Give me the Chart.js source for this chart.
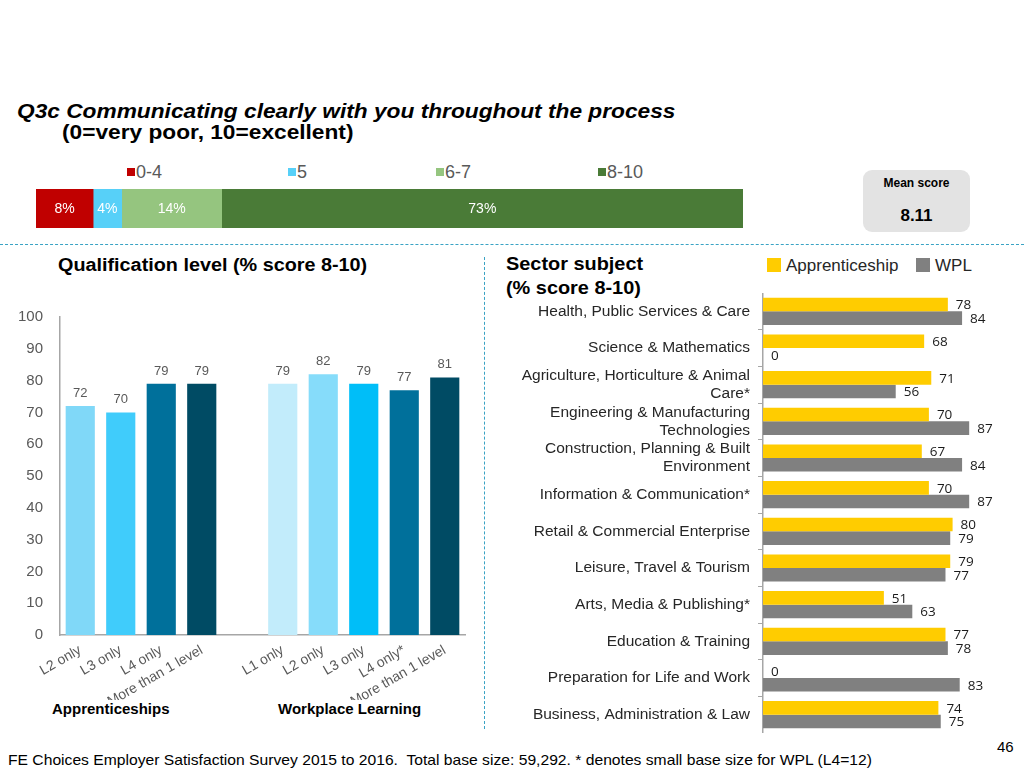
<!DOCTYPE html>
<html>
<head>
<meta charset="utf-8">
<script src="https://cdn.jsdelivr.net/npm/chart.js@4.4.0/dist/chart.umd.min.js"></script>
<style>
  body { margin: 0; background: #fff; font-family: "Liberation Sans", Arial, sans-serif; color: #000; }
  #page { position: relative; width: 1024px; height: 768px; overflow: hidden; }
  .abs { position: absolute; white-space: nowrap; transform-origin: left center; }
  .box { position: absolute; }
  .swatch { position: absolute; }
</style>
</head>
<body>
<div id="page">
  <div class="abs" style="left:17px; top:99px; font-size:20px; line-height:24px; font-weight:bold; font-style:italic; transform:scaleX(1.135);">Q3c Communicating clearly with you throughout the process</div>
  <div class="abs" style="left:62px; top:120px; font-size:20px; line-height:24px; font-weight:bold; transform:scaleX(1.135);">(0=very poor, 10=excellent)</div>

  <div id="topLegend"></div>

  <div class="box" style="left:36px; top:189px; width:707px; height:39px;"><canvas id="scoreChart"></canvas></div>

  <div class="box" style="left:863px; top:170px; width:107px; height:62px; background:#e3e3e3; border-radius:9px;"></div>
  <div class="abs" style="left:863px; width:107px; top:176px; text-align:center; font-size:12px; line-height:14px; font-weight:bold;">Mean score</div>
  <div class="abs" style="left:863px; width:107px; top:206px; text-align:center; font-size:17px; line-height:20px; font-weight:bold;">8.11</div>

  <div class="box" style="left:0; top:244px; width:1024px; border-top:1.5px dashed #3aa3c4;"></div>
  <div class="box" style="left:484px; top:257px; height:472px; border-left:1.5px dashed #3aa3c4;"></div>

  <div class="abs" style="left:58px; top:255px; font-size:18px; line-height:20px; font-weight:bold; transform:scaleX(1.1);">Qualification level (% score 8-10)</div>
  <div class="box" style="left:0; top:300px; width:480px; height:400px;"><canvas id="levelChart"></canvas></div>
  <div class="abs" style="left:52px; top:700px; font-size:15px; line-height:17px; font-weight:bold;">Apprenticeships</div>
  <div class="abs" style="left:278px; top:700px; font-size:15px; line-height:17px; font-weight:bold;">Workplace Learning</div>

  <div class="abs" style="left:506px; top:253px; font-size:18px; line-height:22px; font-weight:bold; transform:scaleX(1.105);">Sector subject</div>
  <div class="abs" style="left:506px; top:277px; font-size:18px; line-height:22px; font-weight:bold; transform:scaleX(1.105);">(% score 8-10)</div>
  <div id="sectorLegend"></div>
  <div class="box" style="left:500px; top:293px; width:520px; height:440px;"><canvas id="sectorChart"></canvas></div>

  <div class="abs" style="left:997px; top:738px; font-size:15px; line-height:17px;">46</div>
  <div class="abs" style="left:8px; top:752px; font-size:14.5px; line-height:16px; transform:scaleX(1.08);">FE Choices Employer Satisfaction Survey 2015 to 2016.&nbsp; Total base size: 59,292. * denotes small base size for WPL (L4=12)</div>
</div>

<script>
// Overall score split (top strip)
const scoreBands = ["0-4", "5", "6-7", "8-10"];
const scoreShares = [8, 4, 14, 73];
const scoreColors = ["#c00000", "#57d0f8", "#95c57f", "#4a7b37"];
const scoreLegendX = [127, 288, 436, 598];

// Qualification level (% score 8-10)
const apprLevels = ["L2 only", "L3 only", "L4 only", "More than 1 level"];
const apprScores = [72, 70, 79, 79];
const apprColors = ["#80d8f8", "#40ccfb", "#00709b", "#004b64"];
const wplLevels = ["L1 only", "L2 only", "L3 only", "L4 only*", "More than 1 level"];
const wplScores = [79, 82, 79, 77, 81];
const wplColors = ["#c2ecfb", "#86dcfa", "#00bef8", "#00709b", "#004b64"];

// Sector subject (% score 8-10)
const sectors = [
  "Health, Public Services & Care",
  "Science & Mathematics",
  ["Agriculture, Horticulture & Animal", "Care*"],
  ["Engineering & Manufacturing", "Technologies"],
  ["Construction, Planning & Built", "Environment"],
  "Information & Communication*",
  "Retail & Commercial Enterprise",
  "Leisure, Travel & Tourism",
  "Arts, Media & Publishing*",
  "Education & Training",
  "Preparation for Life and Work",
  "Business, Administration & Law"
];
const apprSector = [78, 68, 71, 70, 67, 70, 80, 79, 51, 77, 0, 74];
const wplSector = [84, 0, 56, 87, 84, 87, 79, 77, 63, 78, 83, 75];
const sectorSeries = ["Apprenticeship", "WPL"];
const sectorColors = ["#ffcc00", "#808080"];

const FONT = "'Liberation Sans', Arial, sans-serif";

// simple value label plugin (no datalabels plugin available)
const valueLabels = {
  id: "valueLabels",
  afterDatasetsDraw(chart, args, opts) {
    if (!opts || !opts.mode) return;
    const { ctx } = chart;
    ctx.save();
    ctx.font = opts.font;
    ctx.fillStyle = opts.color;
    chart.data.datasets.forEach((ds, di) => {
      const meta = chart.getDatasetMeta(di);
      if (meta.hidden) return;
      meta.data.forEach((bar, i) => {
        const v = ds.data[i];
        if (v == null) return;
        const txt = opts.suffix ? v + opts.suffix : String(v);
        if (opts.mode === "center") {
          ctx.textAlign = "center";
          ctx.textBaseline = "middle";
          ctx.fillText(txt, (bar.x + bar.base) / 2, bar.y + 1);
        } else if (opts.mode === "top") {
          ctx.textAlign = "center";
          ctx.textBaseline = "bottom";
          ctx.fillText(txt, bar.x, bar.y - 6);
        } else {
          ctx.textAlign = "left";
          ctx.textBaseline = "middle";
          ctx.fillText(txt, bar.x + 8, bar.y + 1);
        }
      });
    });
    ctx.restore();
  }
};

// legends as plain html
const topLegend = document.getElementById("topLegend");
scoreBands.forEach((b, i) => {
  topLegend.innerHTML += `
    <div class="swatch" style="left:${scoreLegendX[i]}px; top:168px; width:8px; height:8px; background:${scoreColors[i]};"></div>
    <div class="abs" style="left:${scoreLegendX[i] + 9}px; top:162px; font-size:18px; line-height:20px; color:#595959;">${b}</div>`;
});

const sectorLegend = document.getElementById("sectorLegend");
const sectorLegendX = [767, 916];
sectorSeries.forEach((s, i) => {
  sectorLegend.innerHTML += `
    <div class="swatch" style="left:${sectorLegendX[i]}px; top:258px; width:14px; height:14px; background:${sectorColors[i]};"></div>
    <div class="abs" style="left:${sectorLegendX[i] + 19}px; top:256px; font-size:17px; line-height:20px; color:#262626;">${s}</div>`;
});

// ---- top stacked strip ----
new Chart(document.getElementById("scoreChart"), {
  type: "bar",
  data: {
    labels: ["All"],
    datasets: scoreBands.map((b, i) => ({
      label: b,
      data: [scoreShares[i]],
      backgroundColor: scoreColors[i],
      barPercentage: 1,
      categoryPercentage: 1,
    })),
  },
  options: {
    indexAxis: "y",
    responsive: true,
    maintainAspectRatio: false,
    animation: false,
    layout: { padding: 0 },
    plugins: {
      legend: { display: false },
      tooltip: { enabled: false },
      valueLabels: { mode: "center", font: `14px ${FONT}`, color: "#ffffff", suffix: "%" },
    },
    scales: {
      x: { stacked: true, display: false, min: 0, max: scoreShares.reduce((a, b) => a + b, 0) },
      y: { stacked: true, display: false },
    },
  },
  plugins: [valueLabels],
});

// ---- qualification level ----
const levelLabels = [...apprLevels, "", ...wplLevels];
const levelValues = [...apprScores, null, ...wplScores];
const levelColors = [...apprColors, "#ffffff", ...wplColors];

new Chart(document.getElementById("levelChart"), {
  type: "bar",
  data: {
    labels: levelLabels,
    datasets: [{
      label: "% score 8-10",
      data: levelValues,
      backgroundColor: levelColors,
      barPercentage: 0.72,
      categoryPercentage: 1,
    }],
  },
  options: {
    responsive: true,
    maintainAspectRatio: false,
    animation: false,
    layout: { padding: { top: 17, right: 15, left: 0, bottom: 0 } },
    plugins: {
      legend: { display: false },
      tooltip: { enabled: false },
      valueLabels: { mode: "top", font: `13px ${FONT}`, color: "#595959" },
    },
    scales: {
      x: {
        grid: { display: false, drawTicks: false },
        border: { display: true, color: "#a6a6a6", width: 1.5 },
        ticks: {
          autoSkip: false,
          minRotation: 30,
          maxRotation: 30,
          padding: 7,
          color: "#595959",
          font: { family: FONT, size: 14 },
        },
        afterFit: (s) => { s.height = 65; },
      },
      y: {
        min: 0,
        max: 100,
        grid: { display: false, drawTicks: false },
        border: { display: true, color: "#a6a6a6", width: 1.5 },
        ticks: {
          stepSize: 10,
          padding: 17,
          color: "#595959",
          font: { family: FONT, size: 15 },
        },
        afterFit: (s) => { s.width = 60; s.paddingTop = 0; s.paddingBottom = 0; },
      },
    },
  },
  plugins: [valueLabels],
});

// ---- sector subject ----
new Chart(document.getElementById("sectorChart"), {
  type: "bar",
  data: {
    labels: sectors,
    datasets: [
      { label: sectorSeries[0], data: apprSector, backgroundColor: sectorColors[0], barPercentage: 1, categoryPercentage: 0.74 },
      { label: sectorSeries[1], data: wplSector, backgroundColor: sectorColors[1], barPercentage: 1, categoryPercentage: 0.74 },
    ],
  },
  options: {
    indexAxis: "y",
    responsive: true,
    maintainAspectRatio: false,
    animation: false,
    layout: { padding: { top: 0, right: 20, bottom: 0, left: 0 } },
    plugins: {
      legend: { display: false },
      tooltip: { enabled: false },
      valueLabels: { mode: "end", font: `13.5px 'Open Sans', ${FONT}`, color: "#1a1a1a" },
    },
    scales: {
      x: { display: false, min: 0, max: 100 },
      y: {
        grid: { display: true, drawOnChartArea: false, drawTicks: true, tickLength: 5, color: "#a6a6a6", offset: true },
        border: { display: true, color: "#a6a6a6", width: 1.5 },
        ticks: {
          autoSkip: false,
          padding: 8,
          color: "#262626",
          font: { family: FONT, size: 15.5, lineHeight: 1.17 },
        },
        afterFit: (s) => { s.width = 263; s.paddingTop = 0; s.paddingBottom = 0; },
      },
    },
  },
  plugins: [valueLabels],
});
</script>
</body>
</html>
